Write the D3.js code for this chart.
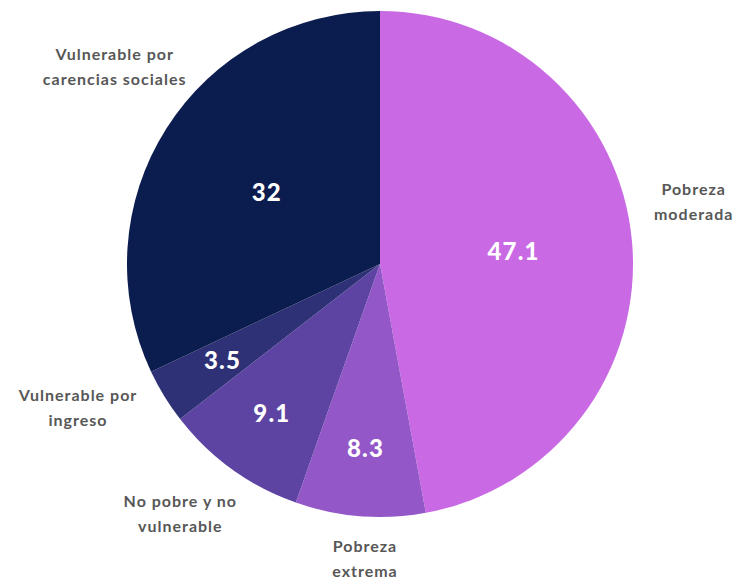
<!DOCTYPE html>
<html>
<head>
<meta charset="utf-8">
<script src="https://cdn.jsdelivr.net/npm/d3@7"></script>
<style>
  body { margin: 0; background: #fff; }
  .cat { font-family: Lato, sans-serif; font-weight: 700; font-size: 16px; fill: #575757; letter-spacing: 1px; }
  .val { font-family: Lato, sans-serif; font-weight: 900; font-size: 24px; fill: #fff; letter-spacing: 1.2px; }
</style>
</head>
<body>
<div class="canvas"></div>
<script>
// data
const categories = [
  ["Pobreza", "moderada"],
  ["Pobreza", "extrema"],
  ["No pobre y no", "vulnerable"],
  ["Vulnerable por", "ingreso"],
  ["Vulnerable por", "carencias sociales"]
];
const values = [47.1, 8.3, 9.1, 3.5, 32];
const colors = ["#c96ae4", "#9357c8", "#5d44a3", "#2f3176", "#0b1c4e"];

// dimensions
const w = 741;
const h = 581;
const cx = 380;
const cy = 264;
const radius = 253;

const svg = d3.select(".canvas").append("svg").attr("width", w).attr("height", h);
const graph = svg.append("g").attr("transform", `translate(${cx}, ${cy})`);

const rows = values.map((v, i) => ({ value: v, label: categories[i], color: colors[i] }));

const pie = d3.pie().value((d) => d.value).sort(null);
const arcs = pie(rows);

const arc = d3.arc().innerRadius(0).outerRadius(radius);

graph
  .selectAll("path")
  .data(arcs)
  .enter()
  .append("path")
  .attr("d", arc)
  .attr("fill", (d) => d.data.color);

// value labels: big slices nearer the middle, thin ones pushed out
const valuePos = (d) => {
  const r = d.data.value > 20 ? radius * 0.53 : radius * 0.73;
  const a = (d.startAngle + d.endAngle) / 2;
  return [Math.sin(a) * r, -Math.cos(a) * r];
};

graph
  .selectAll(".val")
  .data(arcs)
  .enter()
  .append("text")
  .attr("class", "val")
  .attr("text-anchor", "middle")
  .attr("dy", "0.35em")
  .attr("transform", (d) => `translate(${valuePos(d)})`)
  .text((d) => d.data.value);

// category labels outside the pie, nudged a bit to avoid crowding
const labelArc = d3.arc().innerRadius(radius + 66).outerRadius(radius + 66);
const nudge = [[-4, -33], [10, -23], [-13, -9], [-30, -23], [4, -26]];

const cats = graph
  .selectAll(".cat")
  .data(arcs)
  .enter()
  .append("text")
  .attr("class", "cat")
  .attr("text-anchor", "middle")
  .attr("transform", (d, i) => {
    const [x, y] = labelArc.centroid(d);
    return `translate(${x + nudge[i][0]}, ${y + nudge[i][1]})`;
  });

cats
  .selectAll("tspan")
  .data((d) => d.data.label)
  .enter()
  .append("tspan")
  .attr("x", 0)
  .attr("y", (d, i) => (i - 0.5) * 24.5)
  .attr("dy", "0.35em")
  .text((d) => d);
</script>
</body>
</html>
